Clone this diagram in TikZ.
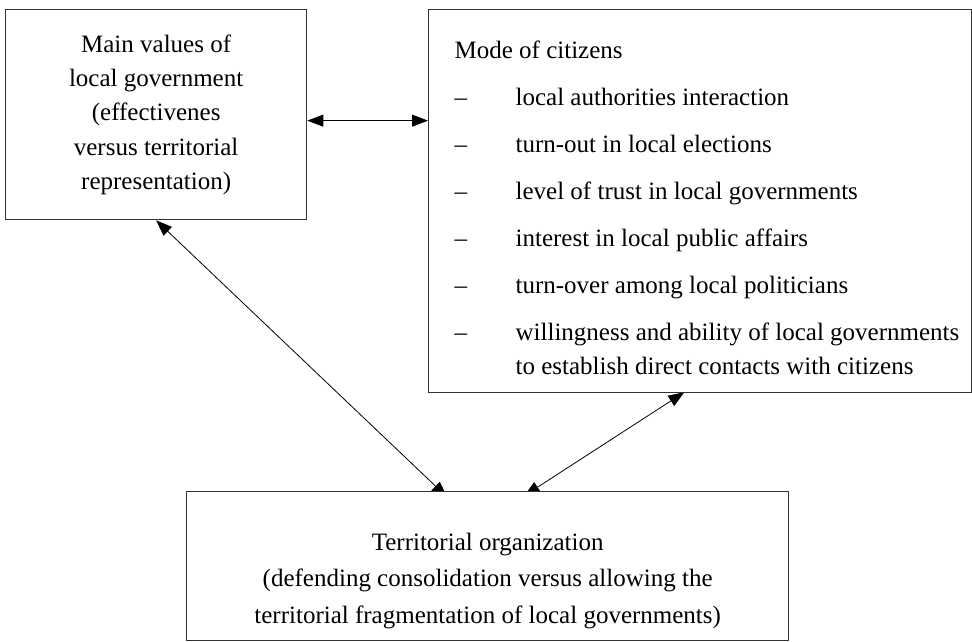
\documentclass[tikz,border=0pt]{standalone}
\usepackage{fontspec}
\setmainfont{Liberation Serif}
\usetikzlibrary{arrows.meta,backgrounds}

\tikzset{
  box/.style={draw=black!80, line width=1.3pt, fill=white, inner sep=0pt, anchor=north west},
  link/.style={{Triangle[length=16pt,width=12pt]}-{Triangle[length=16pt,width=12pt]}, line width=0.8pt},
}

\begin{document}
\begin{tikzpicture}[x=1pt,y=-1pt]
	\useasboundingbox (0,0) rectangle (972,642);
	% boxes
	\node[box, minimum width=301pt, minimum height=210pt, align=center,
		font=\fontsize{25}{34.3}\selectfont] (values) at (5,9)
		{Main values of\\ local government\\ (effectivenes\\ versus territorial\\ representation)};
	\node[box, minimum width=543pt, minimum height=383pt,
		font=\fontsize{25}{34}\selectfont] (citizens) at (428,9)
		{\parbox[c][383pt][t]{543pt}{\vspace*{25pt}\hspace*{26pt}%
		\begin{tabular}[t]{@{}p{61pt}@{}l@{}}
			\multicolumn{2}{@{}l@{}}{Mode of citizens}\\[13pt]
			-- & local authorities interaction\\[13pt]
			-- & turn-out in local elections\\[13pt]
			-- & level of trust in local governments\\[13pt]
			-- & interest in local public affairs\\[13pt]
			-- & turn-over among local politicians\\[13pt]
			-- & willingness and ability of local governments\\
			   & to establish direct contacts with citizens
		\end{tabular}}};
	\node[box, minimum width=602pt, minimum height=149pt,
		font=\fontsize{25}{36.5}\selectfont] (territory) at (186,491)
		{\parbox[c][149pt][t]{602pt}{\centering\vspace*{41pt}%
		Territorial organization\\
		(defending consolidation versus allowing the\\
		territorial fragmentation of local governments)}};
	% links, drawn under the boxes
	\begin{scope}[on background layer]
		\draw[link] ([yshift=-6pt]values.east) -- ([yshift=-6pt]values.east -| citizens.west);
		\draw[link, shorten >=-9pt] (values.south) -- ([xshift=-47pt]territory.north);
		\draw[link, shorten <=-2pt, shorten >=-9pt] ([xshift=-17.5pt]citizens.south) -- ([xshift=44pt]territory.north);
	\end{scope}
\end{tikzpicture}
\end{document}
